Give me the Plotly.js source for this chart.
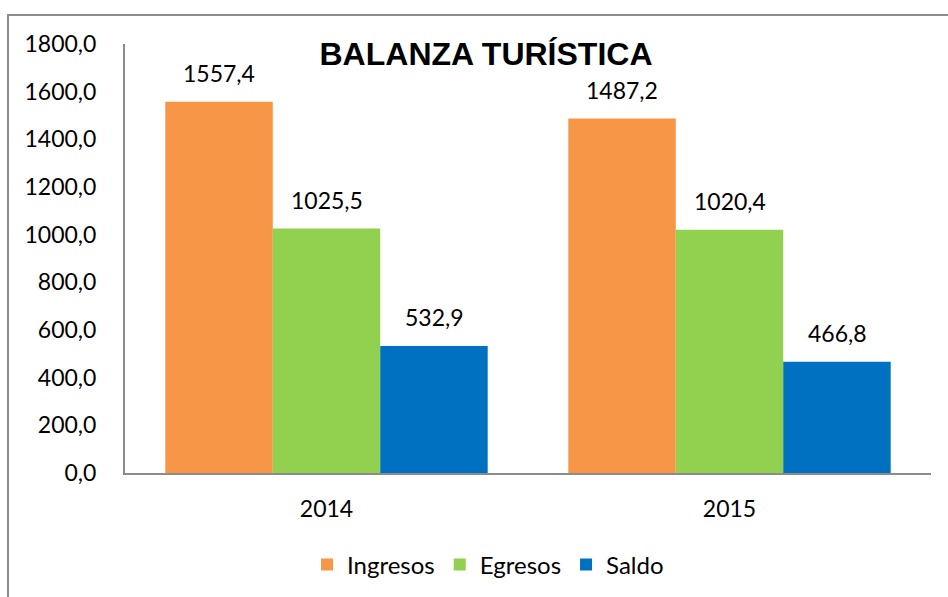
<!DOCTYPE html>
<html>
<head>
<meta charset="utf-8">
<script src="https://cdn.plot.ly/plotly-3.0.1.min.js"></script>
<style>
html,body{margin:0;padding:0;background:#fff;}
#wrap{position:relative;width:948px;height:597px;overflow:hidden;}
#chart{position:absolute;left:0;top:0;width:948px;height:597px;}
#frame{position:absolute;left:7px;top:14px;width:960px;height:600px;border-left:2px solid #8c8c8c;border-top:2px solid #8c8c8c;pointer-events:none;}
</style>
</head>
<body>
<div id="wrap"><div id="chart"></div><div id="frame"></div></div>
<script>
const years = ['2014', '2015'];
const seriesNames = ['Ingresos', 'Egresos', 'Saldo'];
const ingresos = [1557.4, 1487.2];
const egresos = [1025.5, 1020.4];
const saldo = [532.9, 466.8];
const yTicks = [0, 200, 400, 600, 800, 1000, 1200, 1400, 1600, 1800];

const colors = ['#F79646', '#92D050', '#0070C0'];
const values = [ingresos, egresos, saldo];
const FONT = 'Lato, "Liberation Sans", sans-serif';

const traces = values.map((v, i) => ({
  type: 'bar', name: seriesNames[i], x: years, y: v,
  marker: {color: colors[i], line: {width: 0}},
  hoverinfo: 'none'
}));

const barPx = 107.5;
const annotations = [];
values.forEach((v, i) => {
  v.forEach((val, j) => {
    annotations.push({
      x: j, y: val, xref: 'x', yref: 'y',
      text: val.toFixed(1).replace('.', ','),
      showarrow: false, yanchor: 'bottom', xanchor: 'center',
      xshift: (i - 1) * barPx, yshift: 13,
      font: {family: FONT, size: 23, color: '#000'}
    });
  });
});

const layout = {
  width: 948, height: 597,
  margin: {l: 125, r: 17, t: 44, b: 124},
  paper_bgcolor: '#fff', plot_bgcolor: '#fff',
  barmode: 'group', bargap: 0.2, bargroupgap: 0,
  title: {
    text: '<b>BALANZA TURÍSTICA</b>',
    font: {family: '"Liberation Sans", Arial, sans-serif', size: 32, color: '#000'},
    x: 486/948, xref: 'container', xanchor: 'center',
    y: 1 - 54/597, yref: 'container', yanchor: 'middle'
  },
  xaxis: {
    type: 'category', range: [-0.5, 1.5], autorange: false,
    showline: true, linecolor: '#8c8c8c', linewidth: 2,
    showgrid: false, ticks: '', ticklabelstandoff: 14,
    tickfont: {family: FONT, size: 23, color: '#000'}
  },
  yaxis: {
    range: [0, 1800], autorange: false, tickvals: yTicks,
    ticktext: yTicks.map(t => t.toFixed(1).replace('.', ',')),
    showline: true, linecolor: '#8c8c8c', linewidth: 2,
    showgrid: false, zeroline: false, ticks: '', ticklabelstandoff: 22,
    tickfont: {family: FONT, size: 23, color: '#000'}
  },
  showlegend: true,
  legend: {
    orientation: 'h', xref: 'container', yref: 'container',
    x: 488/948, xanchor: 'center', y: 1 - 565/597, yanchor: 'middle',
    font: {family: FONT, size: 24, color: '#000'}, itemwidth: 30
  },
  annotations: annotations
};

Plotly.newPlot('chart', traces, layout, {displayModeBar: false, staticPlot: true});
</script>
</body>
</html>
